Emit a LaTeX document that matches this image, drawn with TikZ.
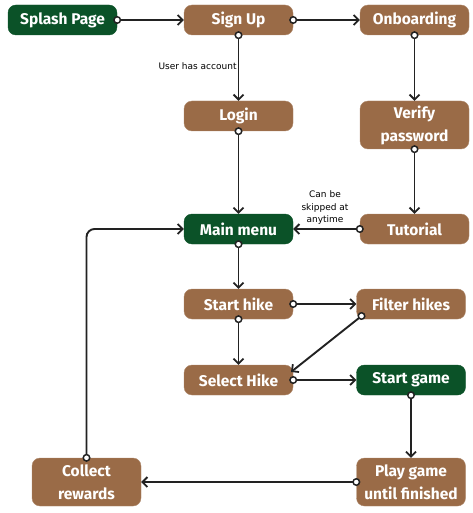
\documentclass[tikz,border=0pt]{standalone}
\usepackage{fontspec}
\setmainfont{Fira Sans}
\newfontfamily\labfont{DejaVu Sans}
\usetikzlibrary{arrows.meta}
\definecolor{brn}{HTML}{9A6B47}
\definecolor{grn}{HTML}{0B5228}
\definecolor{ln}{HTML}{222222}
\begin{document}
\begin{tikzpicture}[x=1pt,y=-1pt,
  box/.style={rounded corners=8pt, fill=brn, draw=brn!80!white, text=white,
    minimum width=109pt, minimum height=30pt, inner sep=0pt, align=center,
    font=\fontsize{15.5}{23}\selectfont\bfseries},
  gbox/.style={box, fill=grn, draw=grn},
  conn/.style={draw=ln, line width=1.9pt,
    {Circle[fill=white,length=8pt,width=8pt,line width=1.5pt]}-{Straight Barb[length=5pt,width=10pt,line width=1.8pt]},
    shorten <=-4pt},
  lab/.style={font=\labfont\fontsize{9}{12.5}\selectfont, text=black, align=center, inner sep=1pt}]
\useasboundingbox (0,0) rectangle (472,513);
\node[gbox] (splash) at (62.5,20) {Splash Page};
\node[box] (signup) at (238.5,20) {Sign Up};
\node[box] (onb) at (414.5,20) {Onboarding};
\node[box] (login) at (238.5,116) {Login};
\node[box, minimum height=48pt] (verify) at (414.5,125) {Verify\\password};
\node[gbox] (menu) at (238.5,229) {Main menu};
\node[box] (tut) at (414.5,229) {Tutorial};
\node[box] (start) at (238.5,304) {Start hike};
\node[box] (filter) at (411,304) {Filter hikes};
\node[box] (select) at (238.5,380) {Select Hike};
\node[gbox] (sgame) at (411,380) {Start game};
\node[box, minimum height=48pt] (collect) at (86.5,482) {Collect\\rewards};
\node[box, minimum height=48pt] (play) at (411,482) {Play game\\until finished};

\draw[conn] (splash.east) -- (signup.west);
\draw[conn] (signup.east) -- (onb.west);
\draw[conn] (signup.south) -- node[lab, left, pos=0.47] {User has account} (login.north);
\draw[conn] (onb.south) -- (verify.north);
\draw[conn] (login.south) -- (menu.north);
\draw[conn] (verify.south) -- (tut.north);
\draw[conn] (tut.west) -- (menu.east);
\node[lab] (skip) at (325,208) {Can be\\skipped at\\anytime};
\draw[conn] (menu.south) -- (start.north);
\draw[conn] (start.east) -- (filter.west);
\draw[conn] (start.south) -- (select.north);
\coordinate (fa) at (361.5,316);
\coordinate (sb) at (291,372);
\draw[conn] (fa) -- (sb);
\draw[conn] (select.east) -- (sgame.west);
\draw[conn] (sgame.south) -- (play.north);
\draw[conn] (play.west) -- (collect.east);
\draw[conn, rounded corners=8pt] (collect.north) -- (collect.north |- menu.west) -- (menu.west);
\end{tikzpicture}
\end{document}
